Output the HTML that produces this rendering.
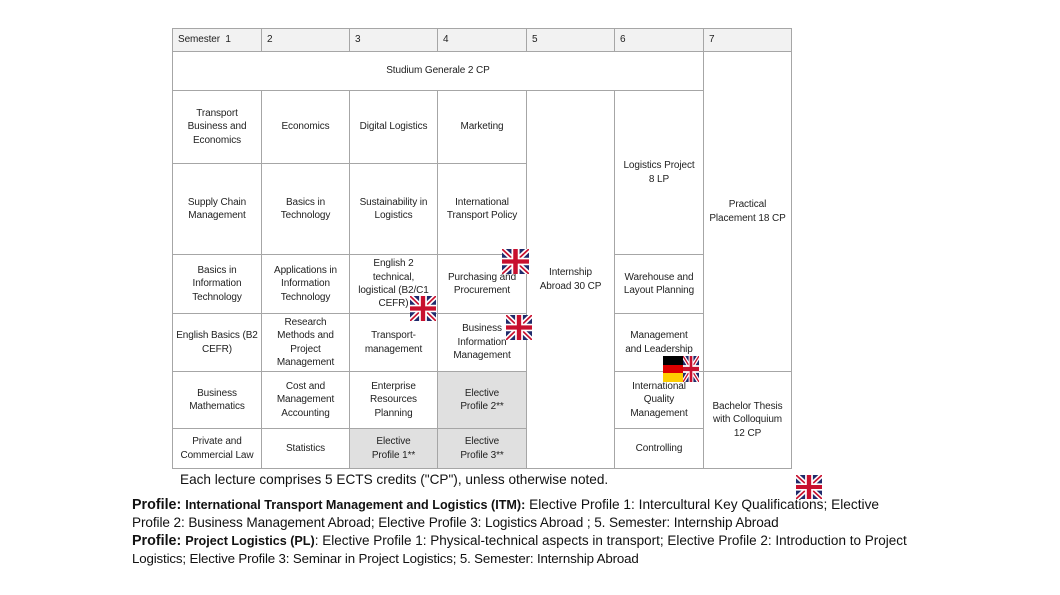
<!DOCTYPE html>
<html><head><meta charset="utf-8"><style>
body{margin:0;width:1060px;height:595px;background:#fff;position:relative;overflow:hidden;font-family:"Liberation Sans",sans-serif;color:#222}
.c{position:absolute;box-sizing:border-box;border:1px solid #a6a6a6;display:flex;align-items:center;justify-content:center;text-align:center;font-size:10px;line-height:13.4px;letter-spacing:-0.1px;padding:0 1px;background:#fff}
.h{background:#f2f2f2;justify-content:flex-start;padding-left:5px}
.g{background:#e0e0e0}
.f{position:absolute}
.t{position:absolute;white-space:nowrap;font-size:13.7px;letter-spacing:0px;color:#111}
</style></head><body>
<div class="c h" style="left:172px;top:28px;width:90px;height:24px">Semester&nbsp; 1</div>
<div class="c h" style="left:261px;top:28px;width:89px;height:24px">2</div>
<div class="c h" style="left:349px;top:28px;width:89px;height:24px">3</div>
<div class="c h" style="left:437px;top:28px;width:90px;height:24px">4</div>
<div class="c h" style="left:526px;top:28px;width:89px;height:24px">5</div>
<div class="c h" style="left:614px;top:28px;width:90px;height:24px">6</div>
<div class="c h" style="left:703px;top:28px;width:89px;height:24px">7</div>
<div class="c" style="left:172px;top:51px;width:532px;height:40px">Studium Generale 2 CP</div>
<div class="c" style="left:703px;top:51px;width:89px;height:321px">Practical<br>Placement 18 CP</div>
<div class="c" style="left:703px;top:371px;width:89px;height:98px">Bachelor Thesis<br>with Colloquium<br>12 CP</div>
<div class="c" style="left:526px;top:90px;width:89px;height:379px">Internship<br>Abroad 30 CP</div>
<!-- col1 -->
<div class="c" style="left:172px;top:90px;width:90px;height:74px">Transport<br>Business and<br>Economics</div>
<div class="c" style="left:172px;top:163px;width:90px;height:92px">Supply Chain<br>Management</div>
<div class="c" style="left:172px;top:254px;width:90px;height:60px">Basics in<br>Information<br>Technology</div>
<div class="c" style="left:172px;top:313px;width:90px;height:59px"><div style="white-space:nowrap">English Basics (B2<br>CEFR)</div></div>
<div class="c" style="left:172px;top:371px;width:90px;height:58px">Business<br>Mathematics</div>
<div class="c" style="left:172px;top:428px;width:90px;height:41px">Private and<br>Commercial Law</div>
<!-- col2 -->
<div class="c" style="left:261px;top:90px;width:89px;height:74px">Economics</div>
<div class="c" style="left:261px;top:163px;width:89px;height:92px">Basics in<br>Technology</div>
<div class="c" style="left:261px;top:254px;width:89px;height:60px">Applications in<br>Information<br>Technology</div>
<div class="c" style="left:261px;top:313px;width:89px;height:59px">Research<br>Methods and<br>Project<br>Management</div>
<div class="c" style="left:261px;top:371px;width:89px;height:58px">Cost and<br>Management<br>Accounting</div>
<div class="c" style="left:261px;top:428px;width:89px;height:41px">Statistics</div>
<!-- col3 -->
<div class="c" style="left:349px;top:90px;width:89px;height:74px">Digital Logistics</div>
<div class="c" style="left:349px;top:163px;width:89px;height:92px">Sustainability in<br>Logistics</div>
<div class="c" style="left:349px;top:254px;width:89px;height:60px">English 2<br>technical,<br>logistical (B2/C1<br>CEFR)</div>
<div class="c" style="left:349px;top:313px;width:89px;height:59px">Transport-<br>management</div>
<div class="c" style="left:349px;top:371px;width:89px;height:58px">Enterprise<br>Resources<br>Planning</div>
<div class="c g" style="left:349px;top:428px;width:89px;height:41px">Elective<br>Profile 1**</div>
<!-- col4 -->
<div class="c" style="left:437px;top:90px;width:90px;height:74px">Marketing</div>
<div class="c" style="left:437px;top:163px;width:90px;height:92px">International<br>Transport Policy</div>
<div class="c" style="left:437px;top:254px;width:90px;height:60px">Purchasing and<br>Procurement</div>
<div class="c" style="left:437px;top:313px;width:90px;height:59px">Business<br>Information<br>Management</div>
<div class="c g" style="left:437px;top:371px;width:90px;height:58px">Elective<br>Profile 2**</div>
<div class="c g" style="left:437px;top:428px;width:90px;height:41px">Elective<br>Profile 3**</div>
<!-- col6 -->
<div class="c" style="left:614px;top:90px;width:90px;height:165px">Logistics Project<br>8 LP</div>
<div class="c" style="left:614px;top:254px;width:90px;height:60px">Warehouse and<br>Layout Planning</div>
<div class="c" style="left:614px;top:313px;width:90px;height:59px">Management<br>and Leadership</div>
<div class="c" style="left:614px;top:371px;width:90px;height:58px">International<br>Quality<br>Management</div>
<div class="c" style="left:614px;top:428px;width:90px;height:41px">Controlling</div>

<svg width="0" height="0" style="position:absolute"><defs>
<g id="uk"><rect width="60" height="60" fill="#1f2a6b"/><path d="M0,0L60,60M60,0L0,60" stroke="#fff" stroke-width="12"/><path d="M0,0L60,60M60,0L0,60" stroke="#c8102e" stroke-width="4"/><path d="M30,0V60M0,30H60" stroke="#fff" stroke-width="18"/><path d="M30,0V60M0,30H60" stroke="#c8102e" stroke-width="10"/></g>
</defs></svg>
<svg class="f" style="left:502px;top:249px" width="27" height="25" viewBox="0 0 60 60" preserveAspectRatio="none"><use href="#uk"/></svg>
<svg class="f" style="left:410px;top:296px" width="26" height="25" viewBox="0 0 60 60" preserveAspectRatio="none"><use href="#uk"/></svg>
<svg class="f" style="left:506px;top:315px" width="26" height="25" viewBox="0 0 60 60" preserveAspectRatio="none"><use href="#uk"/></svg>
<svg class="f" style="left:796px;top:475px" width="26" height="24" viewBox="0 0 60 60" preserveAspectRatio="none"><use href="#uk"/></svg>
<svg class="f" style="left:663px;top:356px" width="36" height="26" viewBox="0 0 36 26">
<rect x="0" y="0" width="20" height="9" fill="#000"/><rect x="0" y="9" width="20" height="8" fill="#dd0000"/><rect x="0" y="17" width="20" height="9" fill="#ffce00"/>
<svg x="20" y="0" width="16" height="26" viewBox="0 0 60 60" preserveAspectRatio="none"><use href="#uk"/></svg></svg>

<div class="t" style="left:180px;top:472px;font-size:13.6px">Each lecture comprises 5 ECTS credits ("CP"), unless otherwise noted.</div>
<div class="t" style="left:132px;top:497px"><b style="font-size:14.3px">Profile: </b><b style="font-size:12.6px">International Transport Management and Logistics (ITM):</b> Elective Profile 1: Intercultural Key Qualifications; Elective</div>
<div class="t" style="left:132px;top:515px;font-size:13.6px;letter-spacing:-0.1px">Profile 2: Business Management Abroad; Elective Profile 3: Logistics Abroad ; 5. Semester: Internship Abroad</div>
<div class="t" style="left:132px;top:533px;font-size:13.5px"><b style="font-size:14.3px">Profile: </b><b style="font-size:12.6px">Project Logistics (PL)</b>: Elective Profile 1: Physical-technical aspects in transport; Elective Profile 2: Introduction to Project</div>
<div class="t" style="left:132px;top:551px;font-size:13.3px;letter-spacing:-0.15px">Logistics; Elective Profile 3: Seminar in Project Logistics; 5. Semester: Internship Abroad</div>
</body></html>
